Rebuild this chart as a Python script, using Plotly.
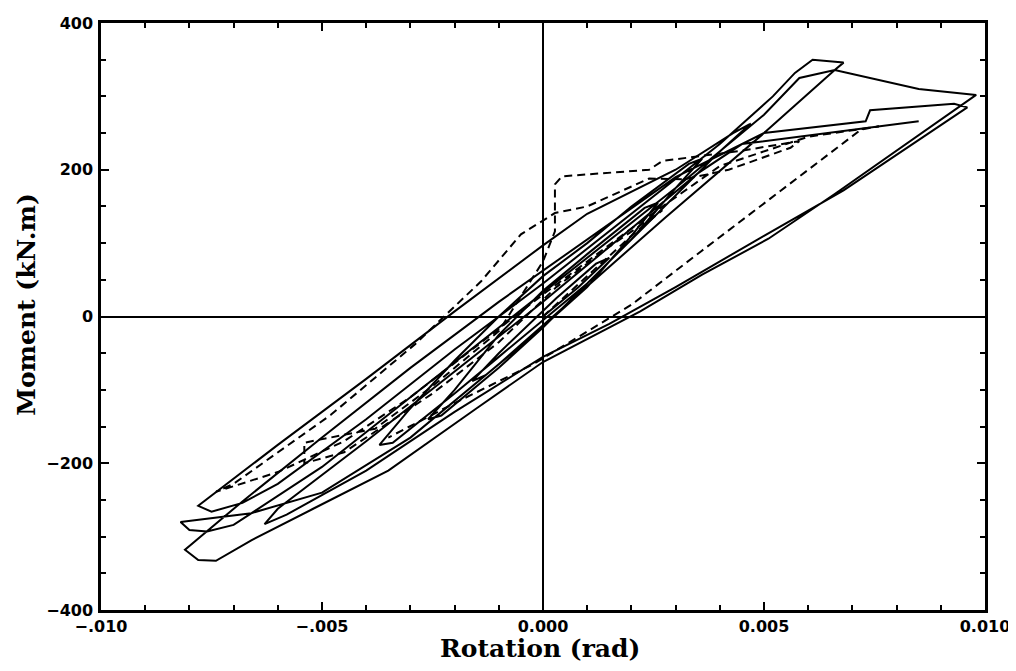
import plotly.graph_objects as go

# ---- data (rotation in rad, moment in kN.m) ----
solid_rot = [0.0000, 0.0008, 0.0015, 0.0012, 0.0003, -0.0010, -0.0016, -0.0013, -0.0003,
             0.0010, 0.0020, 0.0026, 0.0023, 0.0010, 0.0000, -0.0010, -0.0020, -0.0026, -0.0023,
             -0.0010, 0.0000, 0.0010, 0.0020, 0.0030, 0.0036, 0.0033, 0.0020, 0.0010, 0.0000,
             -0.0010, -0.0020, -0.0030, -0.0037, -0.0034, -0.0020, -0.0010, 0.0000, 0.0010,
             0.0020, 0.0030, 0.0040, 0.0047, 0.0043, 0.0030, 0.0020, 0.0010, 0.0000, -0.0020,
             -0.0040, -0.0060, -0.0078, -0.0075, -0.0068, -0.0060, -0.0040, -0.0020, 0.0000,
             0.0020, 0.0040, 0.0052, 0.0057, 0.0061, 0.0068, 0.0066, 0.0050, 0.00275, 0.0006,
             -0.0010, -0.0030, -0.0050, -0.0066, -0.0082, -0.0080, -0.0076, -0.0070, -0.0050,
             -0.0030, -0.0010, 0.0010, 0.0030, 0.0050, 0.0058, 0.0066, 0.0085, 0.0098, 0.0082,
             0.0066, 0.0051, 0.0036, 0.0022, 0.0000, -0.0015, -0.0035, -0.0052, -0.0066, -0.0074,
             -0.0078, -0.0081, -0.0068, -0.0050, -0.0030, -0.0010, 0.0010, 0.0030, 0.0050,
             0.0073, 0.0074, 0.0093, 0.0096, 0.0083, 0.0068, 0.0050, 0.0030, 0.0015, 0.0000,
             -0.0020, -0.0040, -0.0058, -0.0063, -0.0060, -0.0040, -0.0020, 0.0000, 0.0020,
             0.0035, 0.0045, 0.0085]
solid_mom = [0, 40, 80, 72, 25, -50, -88, -80, -30,
             40, 110, 155, 148, 85, 35, -25, -100, -140, -135,
             -70, -15, 45, 105, 175, 215, 208, 150, 100, 55,
             0, -60, -125, -175, -172, -105, -55, -5, 45,
             105, 165, 225, 263, 250, 200, 170, 140, 97, 7,
             -85, -175, -258, -266, -254, -228, -140, -45, 45,
             140, 235, 300, 332, 350, 346, 336, 250, 134, 20,
             -65, -165, -240, -268, -280, -291, -293, -284, -205,
             -110, -15, 80, 175, 275, 325, 336, 310, 302, 235,
             167, 106, 57, 7, -62, -125, -210, -262, -305, -333,
             -332, -318, -252, -165, -70, 20, 105, 190, 250,
             266, 281, 290, 285, 232, 172, 110, 40, -10, -55,
             -130, -210, -270, -283, -262, -170, -75, 20, 120,
             195, 235, 266]

dashed_rot = [0.0000, 0.0010, 0.0020, 0.0027, 0.0015, 0.0003, -0.0010, -0.0025, -0.0045,
              -0.0054, -0.0054, -0.0038, -0.0025, -0.0010, 0.0000, 0.00027, 0.00027, 0.00043,
              0.0024, 0.0027, 0.0045, 0.0058, 0.0056, 0.0042, 0.0032, 0.0024, 0.0010, 0.00027,
              -0.0005, -0.0014, -0.0029, -0.0048, -0.0070, -0.0074, -0.0060, -0.0045, -0.0030,
              -0.0015, 0.0000, 0.0020, 0.0040, 0.0060, 0.0072, 0.0076, 0.0072, 0.00358, 0.0020,
              -0.00025, -0.0020, -0.0035]
dashed_mom = [0, 55, 110, 145, 95, 40, -35, -105, -185,
              -200, -172, -153, -95, -20, 75, 116, 180, 191,
              200, 212, 226, 239, 230, 200, 187, 188, 150, 141,
              112, 48, -38, -134, -228, -239, -212, -170, -110,
              -40, 30, 120, 205, 245, 255, 259, 255, 89, 16,
              -66, -118, -165]

x_tickvals = [-0.010, -0.005, 0.0, 0.005, 0.010]
x_ticktext = ["\u2212.010", "\u2212.005", "0.000", "0.005", "0.010"]
y_tickvals = [-400, -200, 0, 200, 400]
y_ticktext = ["\u2212400", "\u2212200", "0", "200", "400"]

fig = go.Figure()
fig.add_trace(go.Scatter(x=solid_rot, y=solid_mom, mode="lines",
                         line=dict(color="black", width=2), showlegend=False))
fig.add_trace(go.Scatter(x=dashed_rot, y=dashed_mom, mode="lines",
                         line=dict(color="black", width=2, dash="8px,5px"), showlegend=False))

tickfont = dict(family="DejaVu Sans", size=16, color="black", weight="bold")
fig.update_xaxes(range=[-0.010, 0.010], tickvals=x_tickvals, ticktext=x_ticktext,
                 showgrid=False, zeroline=True, zerolinecolor="black", zerolinewidth=1.6,
                 showline=True, linecolor="black", linewidth=2.5, mirror="ticks",
                 ticks="inside", ticklen=8, tickwidth=2, tickcolor="black",
                 minor=dict(ticks="inside", dtick=0.001, ticklen=5, tickwidth=1.5, tickcolor="black"),
                 tickfont=tickfont, ticklabelstandoff=0)
fig.update_yaxes(range=[-400, 400], tickvals=y_tickvals, ticktext=y_ticktext,
                 showgrid=False, zeroline=True, zerolinecolor="black", zerolinewidth=1.6,
                 showline=True, linecolor="black", linewidth=2.5, mirror="ticks",
                 ticks="inside", ticklen=8, tickwidth=2, tickcolor="black",
                 minor=dict(ticks="inside", dtick=50, ticklen=5, tickwidth=1.5, tickcolor="black"),
                 tickfont=tickfont, ticklabelstandoff=2)

titlefont = dict(family="DejaVu Serif", size=25, color="black", weight="bold")
fig.add_annotation(text="Rotation (rad)", xref="paper", yref="paper",
                   x=0.4966, y=-0.066, xanchor="center", yanchor="middle",
                   showarrow=False, font=titlefont)
fig.add_annotation(text="Moment (kN.m)", xref="paper", yref="paper",
                   x=-0.0837, y=0.52, xanchor="center", yanchor="middle",
                   textangle=-90, showarrow=False, font=titlefont)

fig.update_layout(width=1016, height=671, plot_bgcolor="white", paper_bgcolor="white",
                  margin=dict(l=93, r=39, t=15, b=69, autoexpand=False), showlegend=False)

fig.write_html("out.html")
